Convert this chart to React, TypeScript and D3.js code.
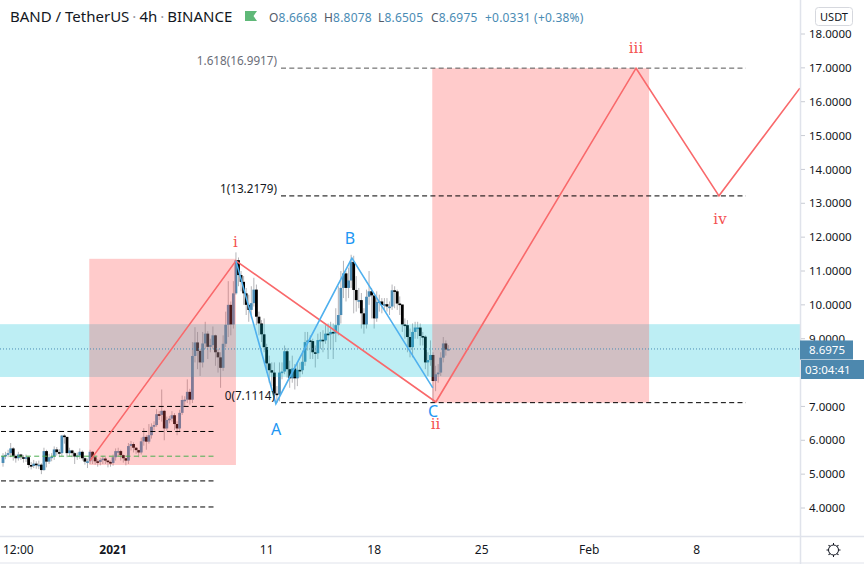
import React from "react";
import * as d3 from "d3";

// candles, one per 4h bar, open is the previous close
const firstOpen = 5.33;
const closes = [
  5.54,5.57,5.62,5.76,5.54,5.47,5.58,5.50,5.47,5.50,
  5.27,5.24,5.31,5.27,5.28,5.12,5.68,5.37,5.50,5.52,
  5.73,5.65,5.62,6.14,6.10,5.62,5.70,5.62,5.52,5.55,
  5.66,5.47,5.37,5.38,5.66,5.50,5.38,5.36,5.42,5.46,
  5.40,5.36,5.33,5.50,5.68,5.68,5.56,5.47,5.40,5.83,
  5.89,5.78,5.71,5.64,5.97,6.10,5.96,6.15,6.40,6.45,
  6.77,6.75,6.87,6.35,6.60,6.64,6.74,6.48,6.35,6.81,
  7.19,7.20,7.43,7.20,8.49,8.89,8.64,8.30,8.86,9.15,
  8.76,8.81,9.10,8.60,8.45,8.14,8.85,9.41,10.00,9.42,
  10.34,11.32,10.88,10.68,10.34,10.00,9.85,10.05,10.45,9.65,
  9.45,9.13,8.75,8.27,8.07,8.00,7.38,7.35,8.00,8.03,
  8.63,8.10,7.83,8.12,7.83,8.08,8.07,8.32,8.90,8.95,
  8.93,8.60,8.57,8.96,8.97,8.95,9.15,9.13,9.20,9.16,
  9.40,9.70,10.50,10.93,10.50,10.72,11.27,10.44,10.14,10.14,
  9.75,9.42,10.24,10.40,10.28,9.60,10.09,10.10,10.00,10.02,
  9.95,9.95,10.43,10.40,10.04,10.01,9.42,9.40,9.05,8.75,
  9.20,9.33,9.33,9.08,9.06,8.30,8.37,8.52,7.75,7.95,
  8.00,8.44,8.86,8.68,8.6975,
];
const highs = [
  5.62,5.66,5.72,5.92,5.80,5.58,5.66,5.60,5.56,5.58,
  5.52,5.36,5.42,5.38,5.40,5.32,5.78,5.72,5.60,5.62,
  5.82,5.80,5.74,6.16,6.18,6.10,5.78,5.72,5.66,5.64,
  5.76,5.70,5.50,5.46,5.72,5.68,5.54,5.44,5.48,5.54,
  5.50,5.42,5.40,5.58,5.76,5.78,5.72,5.58,5.48,5.92,
  5.98,5.94,5.80,5.72,6.08,6.36,6.16,6.48,6.50,6.56,
  6.92,6.86,7.50,6.90,6.70,6.72,6.86,6.80,6.56,6.90,
  7.32,7.30,7.80,7.52,8.90,9.34,9.20,8.70,9.20,9.50,
  9.22,9.00,9.36,9.12,8.70,8.60,9.10,9.80,10.70,10.10,
  10.70,11.55,11.40,11.00,10.85,10.50,10.30,10.55,10.80,10.60,
  9.80,9.55,9.60,8.85,8.50,8.30,8.30,7.60,8.30,8.30,
  8.80,8.72,8.35,8.50,8.25,8.30,8.30,8.65,9.20,9.20,
  9.10,9.00,8.80,9.15,9.20,9.25,9.40,9.45,9.50,9.45,
  9.90,10.55,11.00,11.30,11.00,11.10,11.48,11.45,10.85,10.50,
  10.35,9.90,10.45,11.00,10.50,10.20,10.40,10.30,10.20,10.20,
  10.20,10.10,10.60,10.55,10.45,10.25,10.00,9.60,9.55,9.30,
  9.45,9.50,9.50,9.45,9.20,9.10,8.60,8.95,8.60,8.20,
  8.25,8.60,9.05,8.95,8.81,
];
const lows = [
  5.22,5.44,5.50,5.50,5.40,5.34,5.40,5.42,5.34,5.36,
  5.18,5.14,5.18,5.16,5.15,5.00,5.10,5.20,5.30,5.38,
  5.42,5.55,5.50,5.52,5.90,5.50,5.52,5.50,5.30,5.42,
  5.45,5.40,5.28,5.18,5.30,5.30,5.28,5.22,5.26,5.30,
  5.30,5.20,5.22,5.25,5.40,5.54,5.40,5.34,5.26,5.30,
  5.70,5.64,5.60,5.50,5.58,5.84,5.72,5.90,6.05,6.30,
  6.40,6.60,6.55,6.00,6.28,6.50,6.55,6.30,6.15,6.25,
  6.75,7.00,7.10,7.05,7.10,8.30,8.10,7.90,8.15,8.70,
  8.40,8.60,8.70,8.20,8.00,7.55,8.05,8.75,9.05,9.10,
  9.30,10.30,10.55,10.40,10.00,9.70,9.50,9.60,9.95,9.40,
  9.10,8.90,8.60,8.00,7.70,7.60,7.25,7.10,7.15,7.80,
  7.95,7.85,7.55,7.70,7.50,7.60,7.85,7.95,8.20,8.65,
  8.40,8.40,8.15,8.40,8.70,8.60,8.85,8.40,8.70,8.40,
  8.90,9.10,9.45,10.20,10.10,10.20,10.50,9.75,9.80,9.90,
  9.30,9.15,9.30,10.00,9.60,9.30,9.50,9.80,9.75,9.85,
  9.80,9.70,9.85,9.90,9.85,9.70,9.20,9.00,8.60,8.45,
  8.45,9.00,9.00,8.80,8.80,8.10,7.90,8.20,7.11,7.45,
  7.70,7.90,8.30,8.50,8.65,
];

// axes (8.0000 sits behind the countdown box, so it has no label)
const priceTicks = [18, 17, 16, 15, 14, 13, 12, 11, 10, 9, 8, 7, 6, 5, 4];
const hiddenPriceLabels = [8];
const timeBars = [6, 43, 103, 145, 187, 229, 271];
const timeLabels = ["12:00", "2021", "11", "18", "25", "Feb", "8"];

// drawings, in bar index and price
const waveBars = [34, 91, 169.1, 247.3, 279.7, 311.3];
const wavePrices = [5.4, 11.3, 7.13, 16.99, 13.22, 16.4];
const abcBars = [91, 106.6, 136.3, 167.9];
const abcPrices = [11.3, 7.08, 11.38, 7.55];
const fibPrices = [16.9917, 13.2179, 7.1114];
const fibLabels = ["1.618(16.9917)", "1(13.2179)", "0(7.1114)"];
const levelPrices = [7.0, 6.26, 5.53, 4.8, 4.03];

const lastPrice = 8.6975;
const legendNames = ["O", "H", "L", "C"];
const legendValues = ["8.6668", "8.8078", "8.6505", "8.6975"];

const W = 864;
const H = 564;
const plotR = 800;
const plotB = 536;
const font = "'Noto Sans', sans-serif";
const upColor = "#4a8bb4";
const redLine = "#f9696b";
const blueLine = "#4fb0ee";

const x = d3.scaleLinear().domain([0, 174]).range([3, 448.4]);
const y = d3.scaleLinear().domain([18, 4]).range([34, 508]);

const App = () => {
  const candles = closes.map((c, i) => ({
    i,
    open: i === 0 ? firstOpen : closes[i - 1],
    close: c,
    high: highs[i],
    low: lows[i],
  }));

  const line = d3
    .line<[number, number]>()
    .x((d) => x(d[0]))
    .y((d) => y(d[1]));
  const wavePath = line(waveBars.map((b, i) => [b, wavePrices[i]]));
  const abcPath = line(abcBars.map((b, i) => [b, abcPrices[i]]));

  const gearAngles = d3.range(0, 360, 45);

  return (
    <svg
      width={W}
      height={H}
      style={{ position: "absolute", left: 0, top: 0, display: "block", background: "#fff", fontFamily: font }}
    >
      <defs>
        <clipPath id="plot">
          <rect x={0} y={0} width={plotR} height={plotB} />
        </clipPath>
      </defs>

      <g clipPath="url(#plot)">
        {candles.map((d) => (
          <line key={d.i} x1={x(d.i)} x2={x(d.i)} y1={y(d.high)} y2={y(d.low)} stroke="#b4b4b8" strokeWidth={1} />
        ))}
        {candles.map((d) => (
          <rect
            key={d.i}
            x={x(d.i) - 1.4}
            width={2.8}
            y={y(Math.max(d.open, d.close))}
            height={Math.max(1.6, Math.abs(y(d.open) - y(d.close)))}
            fill={d.close >= d.open ? upColor : "#000"}
          />
        ))}

        <rect x={0} width={plotR} y={y(9.43)} height={y(7.87) - y(9.43)} fill="#00bcd4" fillOpacity={0.26} />
        <rect x={x(33.7)} width={x(91) - x(33.7)} y={y(11.36)} height={y(5.27) - y(11.36)} fill="#ff5252" fillOpacity={0.3} />
        <rect x={x(167.7)} width={x(252.4) - x(167.7)} y={y(16.99)} height={y(7.11) - y(16.99)} fill="#ff5252" fillOpacity={0.3} />

        <line x1={0} x2={plotR} y1={y(lastPrice)} y2={y(lastPrice)} stroke="#4a8bb4" strokeDasharray="1 2" />

        {levelPrices.map((p, i) => (
          <line
            key={p}
            x1={1}
            x2={216}
            y1={y(p)}
            y2={y(p)}
            stroke={i === 2 ? "#4caf50" : "#000"}
            strokeDasharray="5 3.3"
          />
        ))}
        {fibPrices.map((p, i) => (
          <line
            key={p}
            x1={281}
            x2={746}
            y1={y(p)}
            y2={y(p)}
            stroke={i === 0 ? "#555" : "#000"}
            strokeDasharray="5 3.3"
          />
        ))}

        <path d={wavePath ?? ""} fill="none" stroke={redLine} strokeWidth={1.6} />
        <path d={abcPath ?? ""} fill="none" stroke={blueLine} strokeWidth={1.6} />
      </g>

      {fibLabels.map((t, i) => (
        <text
          key={t}
          x={i === 2 ? 275 : 277}
          y={y(fibPrices[i]) - 3}
          textAnchor="end"
          fontSize={11.7}
          fill={i === 0 ? "#6a6d78" : "#131722"}
        >
          {t}
        </text>
      ))}

      {["i", "ii", "iii", "iv"].map((t, i) => (
        <text
          key={t}
          x={[235.5, 435.5, 636, 720][i]}
          y={[247, 429, 53, 224][i]}
          textAnchor="middle"
          fontSize={15}
          fill="#f4504f"
          fontFamily="'DejaVu Serif', serif"
        >
          {t}
        </text>
      ))}
      {["A", "B", "C"].map((t, i) => (
        <text key={t} x={[276, 350, 433][i]} y={[435, 244, 417][i]} textAnchor="middle" fontSize={16} fill="#2196f3">
          {t}
        </text>
      ))}

      {/* legend */}
      <text x={10} y={22} fontSize={15} fill="#131722">
        BAND / TetherUS
        <tspan fill="#9598a1" dx={3}>·</tspan>
        <tspan dx={3}>4h</tspan>
        <tspan fill="#9598a1" dx={3}>·</tspan>
        <tspan dx={3}>BINANCE</tspan>
      </text>
      <path d="M245 11H257L253.5 16L257 21H245Z" fill="#5fb878" />
      {legendNames.map((n, i) => (
        <text key={n} x={[269, 324, 378, 431][i]} y={22} fontSize={12} letterSpacing={0.2} fill={upColor}>
          <tspan fill="#555a66">{n}</tspan>
          {legendValues[i]}
        </text>
      ))}
      <text x={485} y={22} fontSize={12} letterSpacing={0.2} fill={upColor}>
        +0.0331 (+0.38%)
      </text>

      {/* axes */}
      <line x1={plotR + 0.5} x2={plotR + 0.5} y1={0} y2={H} stroke="#e0e3eb" strokeWidth={1.5} />
      <line x1={0} x2={W} y1={plotB + 0.5} y2={plotB + 0.5} stroke="#e0e3eb" strokeWidth={1.5} />
      <line x1={0} x2={W} y1={H - 1} y2={H - 1} stroke="#e0e3eb" />

      {priceTicks.map((p) => (
        <g key={p}>
          <line x1={plotR + 1} x2={805} y1={y(p)} y2={y(p)} stroke="#c9ccd4" />
          {!hiddenPriceLabels.includes(p) && (
            <text x={809} y={y(p) + 4.2} fontSize={11.5} fill="#131722">
              {d3.format(".4f")(p)}
            </text>
          )}
        </g>
      ))}
      {timeBars.map((b, i) => (
        <text
          key={b}
          x={x(b)}
          y={554}
          textAnchor="middle"
          fontSize={12}
          fontWeight={timeLabels[i] === "2021" ? 700 : 400}
          fill="#131722"
        >
          {timeLabels[i]}
        </text>
      ))}

      <rect x={815.5} y={7.5} width={37} height={18} rx={3} fill="#fff" stroke="#d6d8de" />
      <text x={834} y={20.5} textAnchor="middle" fontSize={11} fill="#131722">
        USDT
      </text>

      <rect x={800} y={y(lastPrice) - 8.5} width={53} height={19} fill="#4d88ae" />
      <text x={809} y={y(lastPrice) + 5.5} fontSize={11.5} fill="#fff">
        {d3.format(".4f")(lastPrice)}
      </text>
      <rect x={801} y={360} width={63} height={19} fill="#4d88ae" />
      <text x={805} y={374} fontSize={11.5} fill="#fff">
        03:04:41
      </text>

      {/* settings gear */}
      <g transform="translate(833.5,550)" stroke="#131722" fill="none">
        <circle r={5} />
        {gearAngles.map((a) => (
          <line key={a} x1={5} x2={7} y1={0} y2={0} transform={`rotate(${a})`} />
        ))}
      </g>
    </svg>
  );
};

export default App;
